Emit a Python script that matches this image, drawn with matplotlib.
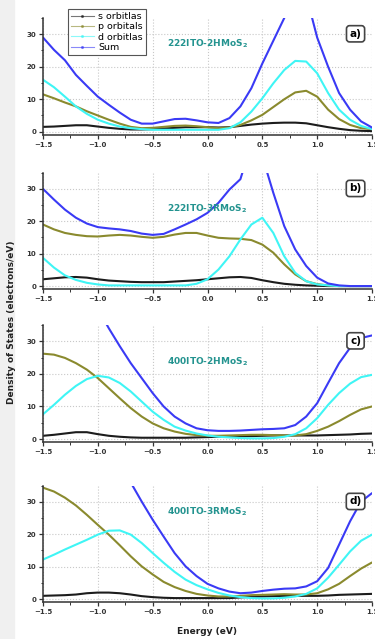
import numpy as np
import matplotlib

matplotlib.use("Agg")
import matplotlib.pyplot as plt
from matplotlib.lines import Line2D
from matplotlib.patches import Rectangle

# energy grid shared by every panel (eV)
energy = np.round(np.arange(-15, 16) / 10, 1)

# panel a) 222ITO-2HMoS2
a_s = [1.5, 1.6, 1.8, 2.0, 2.0, 1.6, 1.2, 0.9, 0.7, 0.7, 0.8, 1.0, 1.2, 1.4, 1.4, 1.4,
       1.3, 1.4, 1.8, 2.2, 2.5, 2.7, 2.8, 2.8, 2.6, 2.0, 1.4, 0.9, 0.5, 0.3, 0.2]
a_p = [11.5, 10.3, 9.0, 7.8, 6.3, 5.0, 3.7, 2.5, 1.5, 1.1, 1.2, 1.5, 1.8, 1.9, 1.7, 1.4,
       1.1, 1.3, 2.1, 3.5, 5.2, 7.6, 10.0, 12.1, 12.6, 10.8, 6.8, 3.9, 2.1, 1.1, 0.8]
a_d = [16.0, 13.7, 10.8, 7.8, 5.5, 3.7, 2.5, 1.6, 1.1, 0.8, 0.6, 0.6, 0.6, 0.6, 0.6, 0.6,
       0.6, 1.1, 2.9, 6.2, 10.3, 14.9, 19.0, 21.8, 21.6, 18.0, 11.9, 6.8, 3.7, 1.8, 0.8]
a_sum = [29.0, 25.2, 22.0, 17.5, 14.1, 10.8, 8.3, 5.9, 3.7, 2.5, 2.5, 3.2, 3.9, 4.0, 3.5, 2.9,
         2.7, 4.2, 7.8, 13.4, 21.0, 28.0, 35.0, 43.0, 42.0, 29.0, 20.0, 11.9, 6.8, 3.2, 1.3]

# panel b) 222ITO-3RMoS2
b_s = [2.1, 2.4, 2.7, 2.8, 2.6, 2.1, 1.7, 1.5, 1.3, 1.2, 1.2, 1.2, 1.4, 1.6, 1.8, 2.1,
       2.4, 2.7, 2.8, 2.5, 1.8, 1.2, 0.7, 0.4, 0.2, 0.1, 0.0, 0.0, 0.0, 0.0, 0.0]
b_p = [19.0, 17.5, 16.4, 15.8, 15.4, 15.3, 15.6, 15.8, 15.6, 15.2, 14.9, 15.2, 15.9, 16.4, 16.4, 15.6,
       14.9, 14.7, 14.6, 14.2, 12.8, 10.3, 6.7, 3.6, 1.5, 0.6, 0.2, 0.0, 0.0, 0.0, 0.0]
b_d = [8.7, 5.7, 3.3, 1.9, 1.0, 0.5, 0.2, 0.2, 0.2, 0.2, 0.2, 0.2, 0.2, 0.2, 0.7, 2.1,
       5.1, 9.2, 14.4, 19.0, 21.1, 16.4, 9.2, 4.1, 1.5, 0.5, 0.2, 0.0, 0.0, 0.0, 0.0]
b_sum = [30.0, 26.7, 23.6, 21.1, 19.3, 18.2, 17.8, 17.5, 17.0, 16.2, 15.8, 16.1, 17.5, 19.0, 20.6, 22.6,
         25.7, 29.8, 33.0, 44.0, 40.0, 28.8, 18.5, 11.3, 6.2, 2.6, 0.8, 0.2, 0.0, 0.0, 0.0]

# panel c) 400ITO-2HMoS2
c_s = [1.0, 1.3, 1.7, 2.1, 2.1, 1.5, 1.0, 0.7, 0.5, 0.4, 0.4, 0.4, 0.4, 0.4, 0.5, 0.6,
       0.7, 0.8, 0.9, 0.9, 1.0, 1.1, 1.1, 1.1, 1.1, 1.1, 1.2, 1.3, 1.4, 1.6, 1.7]
c_p = [26.2, 25.9, 24.9, 23.3, 21.3, 18.7, 15.6, 12.5, 9.5, 6.9, 4.8, 3.3, 2.3, 1.6, 1.2, 1.0,
       1.0, 1.1, 1.2, 1.3, 1.3, 1.2, 1.1, 1.1, 1.5, 2.5, 3.8, 5.5, 7.4, 9.1, 10.0]
c_d = [7.6, 10.5, 13.6, 16.3, 18.4, 19.4, 18.9, 17.2, 14.6, 11.5, 8.4, 5.9, 3.8, 2.6, 1.7, 1.1,
       0.7, 0.5, 0.3, 0.2, 0.2, 0.3, 0.7, 1.5, 3.3, 6.4, 10.5, 14.1, 17.0, 19.0, 19.7]
c_sum = [35.5, 40.0, 44.0, 45.0, 44.0, 40.0, 34.0, 28.5, 23.3, 18.7, 14.1, 10.0, 6.9, 4.8, 3.3, 2.7,
         2.5, 2.5, 2.6, 2.8, 3.0, 3.1, 3.3, 4.3, 6.9, 11.0, 17.2, 23.3, 28.0, 31.0, 31.8]

# panel d) 400ITO-3RMoS2
d_s = [1.0, 1.1, 1.2, 1.4, 1.8, 2.0, 2.0, 1.8, 1.4, 0.9, 0.6, 0.4, 0.3, 0.3, 0.3, 0.3,
       0.3, 0.3, 0.5, 0.7, 0.8, 0.9, 1.0, 1.0, 1.0, 1.0, 1.1, 1.3, 1.4, 1.5, 1.6]
d_p = [34.4, 33.2, 31.3, 28.9, 26.0, 22.9, 19.9, 16.6, 13.2, 10.1, 7.6, 5.3, 3.7, 2.5, 1.6, 1.1,
       0.8, 0.8, 1.0, 1.2, 1.3, 1.4, 1.5, 1.4, 1.4, 1.8, 3.0, 4.7, 7.1, 9.4, 11.3]
d_d = [12.2, 13.7, 15.3, 16.8, 18.3, 19.9, 21.1, 21.2, 19.9, 17.3, 14.2, 11.2, 8.4, 6.0, 4.3, 3.0,
       1.9, 1.1, 0.6, 0.3, 0.2, 0.2, 0.4, 0.8, 1.6, 3.3, 6.6, 10.6, 14.7, 18.0, 19.9]
d_sum = [47.0, 48.0, 48.0, 48.0, 47.0, 46.0, 44.0, 40.0, 36.0, 30.1, 24.5, 19.3, 14.2, 10.1, 7.1, 4.7,
         3.3, 2.3, 1.8, 2.0, 2.5, 2.9, 3.2, 3.3, 3.9, 5.5, 9.6, 16.8, 24.0, 30.1, 32.7]

panel_tags = ["a)", "b)", "c)", "d)"]
panel_names = ["222ITO-2HMoS$_\\mathbf{2}$", "222ITO-3RMoS$_\\mathbf{2}$",
               "400ITO-2HMoS$_\\mathbf{2}$", "400ITO-3RMoS$_\\mathbf{2}$"]
name_y = [27, 24, 23.8, 27]
panels = [(a_s, a_p, a_d, a_sum), (b_s, b_p, b_d, b_sum),
          (c_s, c_p, c_d, c_sum), (d_s, d_p, d_d, d_sum)]

series_labels = ["s orbitlas", "p orbitals", "d orbitlas", "Sum"]
colours = ["#1c1c1c", "#8a8a2e", "#3ff5f5", "#3a3af5"]

W, H = 375, 639
fig = plt.figure(figsize=(W / 100, H / 100), dpi=100)
# pale strip down the left edge, as in the scanned figure
fig.add_artist(Rectangle((0, 0), 14 / W, 1, transform=fig.transFigure,
                         color="#f0f0f0", zorder=-10))

# axes boxes in pixels: (top, bottom)
boxes = [(18, 135), (172.7, 289.3), (325, 442.3), (485.7, 602.3)]
left_px, right_px = 43, 372

axes = []
for (top, bot), curves, tag, name, ny in zip(boxes, panels, panel_tags, panel_names, name_y):
    ax = fig.add_axes([left_px / W, 1 - bot / H, (right_px - left_px) / W, (bot - top) / H])
    for vals, col in zip(curves, colours):
        ax.plot(energy, vals, color=col, lw=1.5, solid_joinstyle="round",
                solid_capstyle="round")
    ax.set_xlim(-1.5, 1.5)
    ax.set_ylim(-1, 35)
    ax.set_xticks(np.arange(-1.5, 1.51, 0.5))
    ax.set_xticks(np.arange(-1.5, 1.51, 0.25), minor=True)
    ax.set_yticks([0, 10, 20, 30])
    ax.set_yticks([5, 15, 25, 35], minor=True)
    ax.grid(True, which="major", color="#c8c8c8", ls=":", lw=0.8)
    for side in ("top", "right"):
        ax.spines[side].set_visible(False)
    for side in ("left", "bottom"):
        ax.spines[side].set_linewidth(1.1)
        ax.spines[side].set_color("#333333")
    ax.tick_params(which="major", direction="out", length=3, width=0.9,
                   labelsize=5, colors="#333333", pad=2)
    ax.tick_params(which="minor", direction="out", length=1.8, width=0.7, colors="#333333")
    for lbl in ax.get_xticklabels() + ax.get_yticklabels():
        lbl.set_fontweight("bold")
    ax.text(-0.37, ny, name, color="#23938f", fontsize=6.5, fontweight="bold",
            va="center", ha="left")
    ax.text(0.95, 0.865, tag, transform=ax.transAxes, fontsize=7.5, fontweight="bold",
            ha="center", va="center",
            bbox=dict(boxstyle="round,pad=0.3", fc="white", ec="#444444", lw=1.2))
    axes.append(ax)

handles = [Line2D([], [], color=c, lw=0.8, marker=".", ms=2.5, alpha=0.6) for c in colours]
axes[0].legend(handles, series_labels, loc="upper left", bbox_to_anchor=(0.076, 1.077),
               fontsize=6.8, frameon=True, fancybox=False, edgecolor="#555555",
               framealpha=1, handlelength=2.4, labelspacing=0.15, borderpad=0.3,
               handletextpad=0.5, borderaxespad=0)
axes[0].get_legend().get_frame().set_linewidth(0.8)

fig.text(12 / W, 1 - 322 / H, "Density of States (electrons/eV)", rotation=90,
         fontsize=6.5, fontweight="bold", ha="center", va="center", color="#222222")
fig.text(207 / W, 1 - 632 / H, "Energy (eV)", fontsize=6.5, fontweight="bold",
         ha="center", va="center", color="#222222")

fig.savefig("out.png", dpi=100)
